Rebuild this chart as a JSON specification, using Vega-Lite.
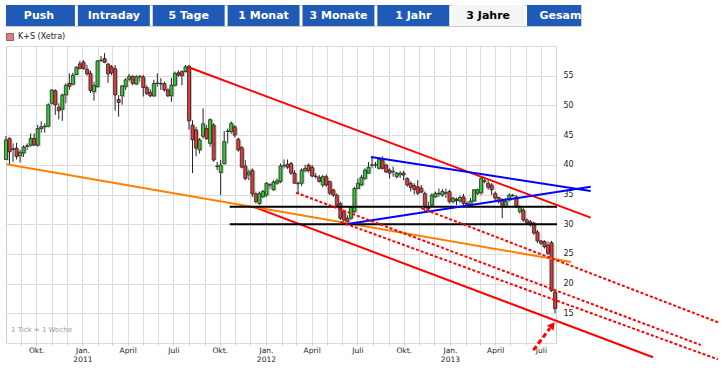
{
  "$schema": "https://vega.github.io/schema/vega-lite/v6.json",
  "padding": {"left": 3, "top": 4, "right": 0, "bottom": 0},
  "spacing": 5,
  "resolve": {"scale": {"fill": "independent"}, "legend": {"fill": "independent"}},
  "config": {"view": {"stroke": "#cfcfcf"}, "font": "DejaVu Sans", "axis": {"labelOverlap": false}},
  "datasets": {
    "buttons": [
      {"b": "Push"}, {"b": "Intraday"}, {"b": "5 Tage"}, {"b": "1 Monat"},
      {"b": "3 Monate"}, {"b": "1 Jahr"}, {"b": "3 Jahre"}, {"b": "Gesamt"}
    ],
    "candles": [
      {"d":"2010-08-02","o":40.9,"h":44.85,"l":40.8,"c":44.2},
      {"d":"2010-08-09","o":44.46,"h":44.6,"l":39.97,"c":42.2},
      {"d":"2010-08-16","o":42.7,"h":43.6,"l":40.5,"c":42.6},
      {"d":"2010-08-23","o":42.8,"h":43.7,"l":40.9,"c":41.4},
      {"d":"2010-08-30","o":41.5,"h":42.5,"l":40.4,"c":42.1},
      {"d":"2010-09-06","o":42.0,"h":43.3,"l":41.3,"c":43.0},
      {"d":"2010-09-13","o":43.1,"h":43.6,"l":42.5,"c":43.2},
      {"d":"2010-09-20","o":43.3,"h":45.3,"l":43.05,"c":44.46},
      {"d":"2010-09-27","o":44.46,"h":45.3,"l":43.2,"c":43.3},
      {"d":"2010-10-04","o":43.3,"h":46.7,"l":43.05,"c":46.1},
      {"d":"2010-10-11","o":46.1,"h":47.3,"l":45.4,"c":46.4},
      {"d":"2010-10-18","o":46.4,"h":47.0,"l":45.4,"c":46.5},
      {"d":"2010-10-25","o":46.5,"h":50.35,"l":46.3,"c":50.1},
      {"d":"2010-11-01","o":50.35,"h":52.7,"l":50.1,"c":52.6},
      {"d":"2010-11-08","o":52.5,"h":52.7,"l":48.4,"c":50.1},
      {"d":"2010-11-15","o":49.7,"h":50.35,"l":47.66,"c":49.1},
      {"d":"2010-11-22","o":49.35,"h":52.0,"l":47.4,"c":51.75},
      {"d":"2010-11-29","o":51.75,"h":53.7,"l":50.35,"c":53.4},
      {"d":"2010-12-06","o":53.7,"h":55.4,"l":52.6,"c":53.2},
      {"d":"2010-12-13","o":53.55,"h":55.5,"l":53.4,"c":55.1},
      {"d":"2010-12-20","o":55.2,"h":56.6,"l":55.1,"c":56.4},
      {"d":"2010-12-27","o":57.0,"h":57.5,"l":56.1,"c":56.2},
      {"d":"2011-01-03","o":57.3,"h":57.6,"l":56.0,"c":56.2},
      {"d":"2011-01-10","o":56.1,"h":56.8,"l":55.0,"c":55.3},
      {"d":"2011-01-17","o":55.4,"h":55.85,"l":52.1,"c":52.5},
      {"d":"2011-01-24","o":52.3,"h":54.0,"l":50.8,"c":53.4},
      {"d":"2011-01-31","o":53.15,"h":57.6,"l":53.0,"c":57.5},
      {"d":"2011-02-07","o":57.6,"h":58.3,"l":57.4,"c":57.5},
      {"d":"2011-02-14","o":57.9,"h":58.8,"l":57.1,"c":57.25},
      {"d":"2011-02-21","o":56.97,"h":57.1,"l":53.8,"c":55.3},
      {"d":"2011-02-28","o":56.5,"h":56.8,"l":55.1,"c":55.5},
      {"d":"2011-03-07","o":56.2,"h":56.8,"l":49.1,"c":51.75},
      {"d":"2011-03-14","o":51.0,"h":51.75,"l":48.1,"c":50.5},
      {"d":"2011-03-21","o":51.6,"h":53.4,"l":50.1,"c":53.3},
      {"d":"2011-03-28","o":53.15,"h":54.6,"l":52.6,"c":54.3},
      {"d":"2011-04-04","o":54.4,"h":55.3,"l":54.0,"c":54.9},
      {"d":"2011-04-11","o":54.9,"h":55.1,"l":53.4,"c":53.7},
      {"d":"2011-04-18","o":53.6,"h":55.1,"l":53.4,"c":54.8},
      {"d":"2011-04-25","o":54.8,"h":55.1,"l":54.0,"c":54.9},
      {"d":"2011-05-02","o":54.8,"h":55.1,"l":51.5,"c":53.0},
      {"d":"2011-05-09","o":53.0,"h":53.4,"l":51.75,"c":52.0},
      {"d":"2011-05-16","o":52.2,"h":52.7,"l":51.4,"c":51.6},
      {"d":"2011-05-23","o":51.6,"h":54.3,"l":51.4,"c":53.7},
      {"d":"2011-05-30","o":53.7,"h":55.4,"l":53.15,"c":53.75},
      {"d":"2011-06-06","o":53.7,"h":54.6,"l":52.6,"c":53.6},
      {"d":"2011-06-13","o":53.7,"h":54.0,"l":52.3,"c":52.6},
      {"d":"2011-06-20","o":52.6,"h":52.9,"l":51.4,"c":51.6},
      {"d":"2011-06-27","o":51.6,"h":54.6,"l":50.6,"c":53.4},
      {"d":"2011-07-04","o":53.4,"h":55.7,"l":53.15,"c":55.4},
      {"d":"2011-07-11","o":55.5,"h":55.9,"l":54.8,"c":55.1},
      {"d":"2011-07-18","o":55.7,"h":55.9,"l":53.4,"c":55.0},
      {"d":"2011-07-25","o":55.7,"h":56.8,"l":55.5,"c":56.5},
      {"d":"2011-08-01","o":56.6,"h":56.8,"l":45.9,"c":47.4},
      {"d":"2011-08-08","o":46.7,"h":47.5,"l":38.6,"c":44.2},
      {"d":"2011-08-15","o":45.9,"h":46.4,"l":41.4,"c":42.8},
      {"d":"2011-08-22","o":42.5,"h":44.5,"l":41.9,"c":44.2},
      {"d":"2011-08-29","o":44.8,"h":49.5,"l":44.4,"c":46.9},
      {"d":"2011-09-05","o":46.1,"h":46.7,"l":44.2,"c":44.4},
      {"d":"2011-09-12","o":43.6,"h":47.8,"l":43.05,"c":47.6},
      {"d":"2011-09-19","o":46.7,"h":47.0,"l":40.5,"c":40.8},
      {"d":"2011-09-26","o":39.8,"h":40.5,"l":39.1,"c":39.7},
      {"d":"2011-10-03","o":38.7,"h":40.8,"l":34.9,"c":39.97},
      {"d":"2011-10-10","o":40.2,"h":45.7,"l":39.97,"c":43.9},
      {"d":"2011-10-17","o":45.6,"h":46.1,"l":43.6,"c":45.7},
      {"d":"2011-10-24","o":45.6,"h":47.3,"l":45.2,"c":46.98},
      {"d":"2011-10-31","o":46.4,"h":46.7,"l":44.6,"c":45.0},
      {"d":"2011-11-07","o":44.3,"h":44.6,"l":42.2,"c":42.5},
      {"d":"2011-11-14","o":42.9,"h":43.2,"l":39.4,"c":39.6},
      {"d":"2011-11-21","o":39.8,"h":40.8,"l":37.4,"c":37.7},
      {"d":"2011-11-28","o":38.3,"h":39.2,"l":37.4,"c":38.8},
      {"d":"2011-12-05","o":39.1,"h":39.4,"l":34.6,"c":35.1},
      {"d":"2011-12-12","o":35.1,"h":35.5,"l":33.5,"c":33.8},
      {"d":"2011-12-19","o":33.5,"h":35.5,"l":33.2,"c":35.2},
      {"d":"2011-12-26","o":34.6,"h":35.8,"l":34.4,"c":35.5},
      {"d":"2012-01-02","o":34.9,"h":37.1,"l":34.6,"c":36.9},
      {"d":"2012-01-09","o":36.6,"h":36.9,"l":35.9,"c":36.65},
      {"d":"2012-01-16","o":35.8,"h":37.4,"l":35.6,"c":37.1},
      {"d":"2012-01-23","o":36.9,"h":37.7,"l":36.6,"c":37.3},
      {"d":"2012-01-30","o":37.2,"h":40.2,"l":36.9,"c":39.8},
      {"d":"2012-02-06","o":39.8,"h":40.9,"l":39.4,"c":39.9},
      {"d":"2012-02-13","o":40.1,"h":40.9,"l":39.3,"c":39.6},
      {"d":"2012-02-20","o":40.2,"h":40.5,"l":38.3,"c":38.6},
      {"d":"2012-02-27","o":38.6,"h":39.1,"l":36.8,"c":36.9},
      {"d":"2012-03-05","o":36.9,"h":37.2,"l":35.2,"c":36.8},
      {"d":"2012-03-12","o":36.9,"h":39.4,"l":36.4,"c":39.1},
      {"d":"2012-03-19","o":39.0,"h":40.0,"l":38.7,"c":39.4},
      {"d":"2012-03-26","o":39.97,"h":40.2,"l":38.7,"c":39.0},
      {"d":"2012-04-02","o":39.6,"h":39.97,"l":37.9,"c":38.1},
      {"d":"2012-04-09","o":38.1,"h":38.6,"l":37.7,"c":38.0},
      {"d":"2012-04-16","o":37.9,"h":38.3,"l":37.0,"c":37.2},
      {"d":"2012-04-23","o":36.6,"h":38.3,"l":36.2,"c":38.0},
      {"d":"2012-04-30","o":38.0,"h":38.4,"l":36.3,"c":36.6},
      {"d":"2012-05-07","o":37.2,"h":37.3,"l":34.9,"c":35.2},
      {"d":"2012-05-14","o":35.8,"h":35.9,"l":34.6,"c":34.9},
      {"d":"2012-05-21","o":34.9,"h":35.2,"l":32.9,"c":33.2},
      {"d":"2012-05-28","o":33.5,"h":33.8,"l":30.7,"c":31.0},
      {"d":"2012-06-04","o":32.1,"h":32.4,"l":30.4,"c":30.7},
      {"d":"2012-06-11","o":31.0,"h":31.5,"l":30.1,"c":30.4},
      {"d":"2012-06-18","o":31.0,"h":32.9,"l":30.7,"c":32.8},
      {"d":"2012-06-25","o":32.1,"h":36.3,"l":31.8,"c":36.0},
      {"d":"2012-07-02","o":36.0,"h":37.7,"l":35.9,"c":36.9},
      {"d":"2012-07-09","o":36.6,"h":38.3,"l":36.4,"c":37.9},
      {"d":"2012-07-16","o":37.7,"h":39.4,"l":37.4,"c":39.1},
      {"d":"2012-07-23","o":38.6,"h":40.5,"l":38.5,"c":39.6},
      {"d":"2012-07-30","o":39.9,"h":41.4,"l":39.4,"c":40.0},
      {"d":"2012-08-06","o":40.0,"h":40.5,"l":39.5,"c":39.97},
      {"d":"2012-08-13","o":39.4,"h":41.1,"l":39.2,"c":40.9},
      {"d":"2012-08-20","o":40.8,"h":41.4,"l":39.2,"c":39.4},
      {"d":"2012-08-27","o":39.97,"h":40.2,"l":38.6,"c":38.8},
      {"d":"2012-09-03","o":39.1,"h":39.4,"l":37.7,"c":38.6},
      {"d":"2012-09-10","o":38.85,"h":39.7,"l":38.0,"c":38.8},
      {"d":"2012-09-17","o":38.0,"h":38.8,"l":37.7,"c":38.6},
      {"d":"2012-09-24","o":38.3,"h":38.9,"l":37.8,"c":38.6},
      {"d":"2012-10-01","o":38.6,"h":39.0,"l":37.4,"c":38.3},
      {"d":"2012-10-08","o":37.7,"h":37.9,"l":36.3,"c":36.6},
      {"d":"2012-10-15","o":36.9,"h":37.2,"l":35.5,"c":36.2},
      {"d":"2012-10-22","o":36.5,"h":36.9,"l":35.0,"c":35.85},
      {"d":"2012-10-29","o":36.3,"h":37.4,"l":34.9,"c":35.2},
      {"d":"2012-11-05","o":36.1,"h":36.6,"l":35.2,"c":35.4},
      {"d":"2012-11-12","o":35.2,"h":35.5,"l":32.1,"c":32.95},
      {"d":"2012-11-19","o":32.95,"h":33.8,"l":32.1,"c":32.6},
      {"d":"2012-11-26","o":33.2,"h":35.2,"l":32.95,"c":34.9},
      {"d":"2012-12-03","o":34.6,"h":35.5,"l":34.4,"c":35.2},
      {"d":"2012-12-10","o":35.2,"h":36.0,"l":34.6,"c":35.1},
      {"d":"2012-12-17","o":34.9,"h":35.9,"l":34.6,"c":35.5},
      {"d":"2012-12-24","o":35.3,"h":36.0,"l":34.4,"c":35.2},
      {"d":"2012-12-31","o":35.5,"h":35.8,"l":33.5,"c":33.8},
      {"d":"2013-01-07","o":33.8,"h":34.6,"l":33.5,"c":34.4},
      {"d":"2013-01-14","o":34.2,"h":34.5,"l":33.2,"c":34.0},
      {"d":"2013-01-21","o":33.9,"h":34.8,"l":33.6,"c":34.5},
      {"d":"2013-01-28","o":34.6,"h":35.1,"l":33.2,"c":33.5},
      {"d":"2013-02-04","o":33.5,"h":33.9,"l":32.95,"c":33.2},
      {"d":"2013-02-11","o":33.3,"h":34.4,"l":33.1,"c":33.9},
      {"d":"2013-02-18","o":33.9,"h":35.9,"l":33.7,"c":35.8},
      {"d":"2013-02-25","o":35.2,"h":36.0,"l":34.9,"c":35.8},
      {"d":"2013-03-04","o":35.3,"h":37.9,"l":34.9,"c":37.7},
      {"d":"2013-03-11","o":37.3,"h":37.6,"l":36.9,"c":37.2},
      {"d":"2013-03-18","o":36.9,"h":37.4,"l":35.8,"c":36.2},
      {"d":"2013-03-25","o":36.6,"h":36.9,"l":34.9,"c":35.8},
      {"d":"2013-04-01","o":35.2,"h":35.5,"l":33.8,"c":34.4},
      {"d":"2013-04-08","o":34.5,"h":34.6,"l":33.5,"c":33.8},
      {"d":"2013-04-15","o":34.1,"h":34.4,"l":31.0,"c":33.2},
      {"d":"2013-04-22","o":32.95,"h":34.4,"l":32.7,"c":33.9},
      {"d":"2013-04-29","o":34.1,"h":35.2,"l":33.8,"c":34.9},
      {"d":"2013-05-06","o":34.9,"h":35.1,"l":34.6,"c":34.8},
      {"d":"2013-05-13","o":34.6,"h":34.9,"l":32.7,"c":32.95},
      {"d":"2013-05-20","o":32.1,"h":33.2,"l":31.8,"c":32.95},
      {"d":"2013-05-27","o":32.4,"h":32.7,"l":30.4,"c":30.7},
      {"d":"2013-06-03","o":30.7,"h":31.0,"l":29.9,"c":30.2},
      {"d":"2013-06-10","o":30.4,"h":30.7,"l":29.6,"c":29.9},
      {"d":"2013-06-17","o":30.2,"h":30.4,"l":28.2,"c":28.5},
      {"d":"2013-06-24","o":28.7,"h":29.0,"l":26.8,"c":27.2},
      {"d":"2013-07-01","o":27.2,"h":27.3,"l":26.5,"c":26.8},
      {"d":"2013-07-08","o":27.1,"h":27.3,"l":25.9,"c":26.2},
      {"d":"2013-07-15","o":26.5,"h":27.1,"l":24.8,"c":25.1},
      {"d":"2013-07-22","o":26.9,"h":27.2,"l":18.6,"c":18.8},
      {"d":"2013-07-29","o":18.6,"h":18.8,"l":15.0,"c":15.8}
    ],
    "solid": [
      {"id":"Kanal oben","kind":"Trendkanal","d":"2011-07-30","p":56.46},
      {"id":"Kanal oben","kind":"Trendkanal","d":"2013-10-08","p":31.1},
      {"id":"Kanal unten","kind":"Trendkanal","d":"2011-12-08","p":32.9},
      {"id":"Kanal unten","kind":"Trendkanal","d":"2014-02-09","p":7.6},
      {"id":"Langfristtrend","kind":"Langfristtrend","d":"2010-08-03","p":40.1},
      {"id":"Langfristtrend","kind":"Langfristtrend","d":"2013-08-30","p":23.64},
      {"id":"Widerstand 33","kind":"Horizontale","d":"2011-10-21","p":32.95},
      {"id":"Widerstand 33","kind":"Horizontale","d":"2013-08-02","p":32.95},
      {"id":"Unterstuetzung 30","kind":"Horizontale","d":"2011-10-21","p":30.0},
      {"id":"Unterstuetzung 30","kind":"Horizontale","d":"2013-08-02","p":30.0},
      {"id":"Dreieck oben","kind":"Dreieck","d":"2012-07-28","p":41.3},
      {"id":"Dreieck oben","kind":"Dreieck","d":"2013-10-08","p":35.6},
      {"id":"Dreieck unten","kind":"Dreieck","d":"2012-06-08","p":30.0},
      {"id":"Dreieck unten","kind":"Dreieck","d":"2013-10-08","p":36.3}
    ],
    "dotted": [
      {"id":"Parallele 1","d":"2012-03-01","p":35.3},
      {"id":"Parallele 1","d":"2014-05-15","p":9.66},
      {"id":"Parallele 2","d":"2012-11-05","p":32.7},
      {"id":"Parallele 2","d":"2014-06-18","p":13.49},
      {"id":"Parallele 3","d":"2012-05-29","p":30.37},
      {"id":"Parallele 3","d":"2014-06-18","p":7.25}
    ],
    "arrow": [
      {"d1":"2013-06-16","p1":8.8,"d2":"2013-07-19","p2":12.5}
    ],
    "arrowhead": [
      {"d":"2013-07-24","p":13.0}
    ],
    "note": [
      {"d":"2010-08-12","p":12.2,"t":"1 Tick = 1 Woche"}
    ]
  },
  "vconcat": [
    {
      "width": 575,
      "height": 21,
      "data": {"name": "buttons"},
      "layer": [
        {
          "mark": {"type": "rect", "clip": true},
          "encoding": {
            "x": {"field": "b", "type": "nominal", "sort": null,
                  "scale": {"range": [-3, 593], "paddingInner": 0.039, "paddingOuter": 0},
                  "axis": null},
            "fill": {"condition": {"test": "datum.b === '3 Jahre'", "value": "#f5f5f5"}, "value": "#1f5bb6"}
          }
        },
        {
          "mark": {"type": "text", "clip": true, "font": "DejaVu Sans", "fontSize": 11, "fontWeight": "bold", "baseline": "middle"},
          "encoding": {
            "x": {"field": "b", "type": "nominal", "sort": null, "axis": null},
            "text": {"field": "b"},
            "color": {"condition": {"test": "datum.b === '3 Jahre'", "value": "#000000"}, "value": "#ffffff"}
          }
        }
      ]
    },
    {
      "width": 550,
      "height": 297,
      "data": {"name": "candles"},
      "layer": [
        {
          "mark": {"type": "rule", "color": "#222222", "strokeWidth": 1, "clip": false},
          "encoding": {
            "x": {"field": "d", "type": "temporal",
                  "scale": {"type": "utc", "nice": false, "padding": 0, "domain": [{"year": 2010, "month": 8, "date": 2, "utc": true}, {"year": 2013, "month": 7, "date": 31, "utc": true}]},
                  "axis": {"orient": "bottom", "tickCount": {"interval": "month", "step": 1}, "grid": true, "gridColor": "#dcdcdc", "gridWidth": 1,
                           "domain": false, "tickSize": 2, "tickColor": "#cfcfcf", "labelOverlap": false, "labelBound": false, "labelFlush": false,
                           "labelFont": "DejaVu Sans", "labelFontSize": 7.5, "labelColor": "#222222", "labelPadding": 1, "labelLineHeight": 9.5,
                           "title": null,
                           "labelExpr": "utcmonth(datum.value) == 0 ? ['Jan.', '' + utcyear(datum.value)] : utcmonth(datum.value) == 3 ? 'April' : utcmonth(datum.value) == 6 ? 'Juli' : utcmonth(datum.value) == 9 ? 'Okt.' : ''"}},
            "y": {"field": "l", "type": "quantitative",
                  "scale": {"domain": [10, 60], "nice": false, "zero": false, "padding": 0},
                  "axis": {"orient": "right", "values": [10, 15, 20, 25, 30, 35, 40, 45, 50, 55, 60], "grid": true, "gridColor": "#dcdcdc", "domain": false, "ticks": false, "labelPadding": 7, "title": null, "labelOverlap": false, "labelBound": false, "labelFont": "DejaVu Sans", "labelFontSize": 8, "labelColor": "#222222", "labelExpr": "datum.value == 10 || datum.value == 60 ? '' : datum.label"}},
            "y2": {"field": "h"}
          }
        },
        {
          "mark": {"type": "bar", "size": 3, "fill": "#c4c4c4", "xOffset": 1.5, "yOffset": 1, "clip": false},
          "encoding": {
            "x": {"field": "d", "type": "temporal"},
            "y": {"field": "o", "type": "quantitative",
                  "axis": {"orient": "right", "values": [10, 15, 20, 25, 30, 35, 40, 45, 50, 55, 60], "grid": true, "gridColor": "#dcdcdc", "domain": false, "ticks": false, "labelPadding": 7, "title": null, "labelOverlap": false, "labelBound": false, "labelFont": "DejaVu Sans", "labelFontSize": 8, "labelColor": "#222222", "labelExpr": "datum.value == 10 || datum.value == 60 ? '' : datum.label"}},
            "y2": {"field": "c"}
          }
        },
        {
          "mark": {"type": "bar", "size": 3, "stroke": "#222222", "strokeWidth": 0.8, "clip": false},
          "encoding": {
            "x": {"field": "d", "type": "temporal"},
            "y": {"field": "o", "type": "quantitative",
                  "axis": {"orient": "right", "values": [10, 15, 20, 25, 30, 35, 40, 45, 50, 55, 60], "grid": true, "gridColor": "#dcdcdc", "domain": false, "ticks": false, "labelPadding": 7, "title": null, "labelOverlap": false, "labelBound": false, "labelFont": "DejaVu Sans", "labelFontSize": 8, "labelColor": "#222222", "labelExpr": "datum.value == 10 || datum.value == 60 ? '' : datum.label"}},
            "y2": {"field": "c"},
            "fill": {"condition": {"test": "datum.c >= datum.o", "value": "#33cc33"}, "value": "#e23a3a"}
          }
        },
        {
          "data": {"name": "solid"},
          "mark": {"type": "line", "strokeWidth": 2, "strokeJoin": "bevel", "strokeCap": "butt", "clip": false},
          "encoding": {
            "x": {"field": "d", "type": "temporal"},
            "y": {"field": "p", "type": "quantitative",
                  "axis": {"orient": "right", "values": [10, 15, 20, 25, 30, 35, 40, 45, 50, 55, 60], "grid": true, "gridColor": "#dcdcdc", "domain": false, "ticks": false, "labelPadding": 7, "title": null, "labelOverlap": false, "labelBound": false, "labelFont": "DejaVu Sans", "labelFontSize": 8, "labelColor": "#222222", "labelExpr": "datum.value == 10 || datum.value == 60 ? '' : datum.label"}},
            "detail": {"field": "id"},
            "color": {"field": "kind", "type": "nominal",
                      "scale": {"domain": ["Langfristtrend", "Horizontale", "Dreieck", "Trendkanal"], "range": ["#ff8000", "#000000", "#0000ff", "#ff0000"]},
                      "legend": null}
          }
        },
        {
          "data": {"name": "dotted"},
          "mark": {"type": "line", "strokeWidth": 2, "color": "#ff0000", "strokeDash": [3, 2], "strokeJoin": "bevel", "strokeCap": "butt", "clip": false},
          "encoding": {
            "x": {"field": "d", "type": "temporal"},
            "y": {"field": "p", "type": "quantitative",
                  "axis": {"orient": "right", "values": [10, 15, 20, 25, 30, 35, 40, 45, 50, 55, 60], "grid": true, "gridColor": "#dcdcdc", "domain": false, "ticks": false, "labelPadding": 7, "title": null, "labelOverlap": false, "labelBound": false, "labelFont": "DejaVu Sans", "labelFontSize": 8, "labelColor": "#222222", "labelExpr": "datum.value == 10 || datum.value == 60 ? '' : datum.label"}},
            "detail": {"field": "id"}
          }
        },
        {
          "data": {"name": "arrow"},
          "mark": {"type": "rule", "strokeWidth": 3, "color": "#ff0000", "strokeDash": [5, 3], "clip": false},
          "encoding": {
            "x": {"field": "d1", "type": "temporal"},
            "y": {"field": "p1", "type": "quantitative",
                  "axis": {"orient": "right", "values": [10, 15, 20, 25, 30, 35, 40, 45, 50, 55, 60], "grid": true, "gridColor": "#dcdcdc", "domain": false, "ticks": false, "labelPadding": 7, "title": null, "labelOverlap": false, "labelBound": false, "labelFont": "DejaVu Sans", "labelFontSize": 8, "labelColor": "#222222", "labelExpr": "datum.value == 10 || datum.value == 60 ? '' : datum.label"}},
            "x2": {"field": "d2"},
            "y2": {"field": "p2"}
          }
        },
        {
          "data": {"name": "arrowhead"},
          "mark": {"type": "point", "shape": "triangle-up", "filled": true, "color": "#ff0000", "opacity": 1, "size": 70, "angle": 37, "clip": false},
          "encoding": {
            "x": {"field": "d", "type": "temporal"},
            "y": {"field": "p", "type": "quantitative",
                  "axis": {"orient": "right", "values": [10, 15, 20, 25, 30, 35, 40, 45, 50, 55, 60], "grid": true, "gridColor": "#dcdcdc", "domain": false, "ticks": false, "labelPadding": 7, "title": null, "labelOverlap": false, "labelBound": false, "labelFont": "DejaVu Sans", "labelFontSize": 8, "labelColor": "#222222", "labelExpr": "datum.value == 10 || datum.value == 60 ? '' : datum.label"}}
          }
        },
        {
          "data": {"name": "note"},
          "mark": {"type": "text", "align": "left", "baseline": "middle", "font": "DejaVu Sans", "fontSize": 7, "color": "#9a9a9a"},
          "encoding": {
            "x": {"field": "d", "type": "temporal"},
            "y": {"field": "p", "type": "quantitative",
                  "axis": {"orient": "right", "values": [10, 15, 20, 25, 30, 35, 40, 45, 50, 55, 60], "grid": true, "gridColor": "#dcdcdc", "domain": false, "ticks": false, "labelPadding": 7, "title": null, "labelOverlap": false, "labelBound": false, "labelFont": "DejaVu Sans", "labelFontSize": 8, "labelColor": "#222222", "labelExpr": "datum.value == 10 || datum.value == 60 ? '' : datum.label"}},
            "text": {"field": "t"}
          }
        },
        {
          "data": {"values": []},
          "mark": {"type": "square"},
          "encoding": {
            "fill": {"datum": "K+S (Xetra)", "type": "nominal",
                     "scale": {"domain": ["K+S (Xetra)"], "range": ["#e8403a"]},
                     "legend": {"orient": "top", "title": null, "offset": 3, "padding": 0, "symbolType": "square", "symbolSize": 49,
                                "symbolStrokeColor": "#333333", "symbolStrokeWidth": 1, "labelFont": "DejaVu Sans", "labelFontSize": 8,
                                "labelColor": "#222222", "labelOffset": 4}}
          }
        }
      ]
    }
  ]
}
